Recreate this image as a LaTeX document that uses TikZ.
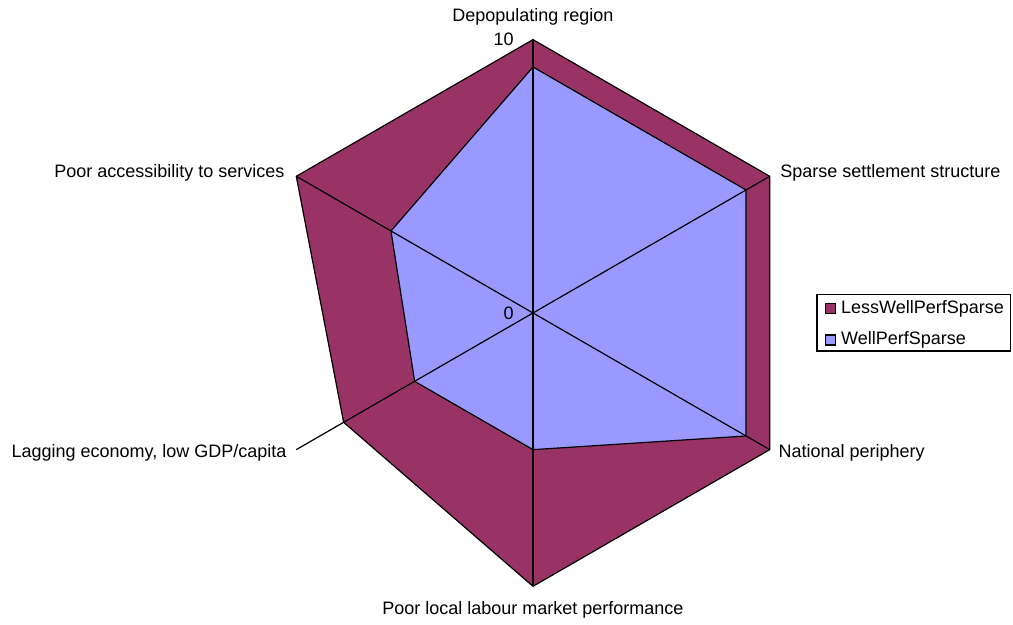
\documentclass[tikz,border=0pt]{standalone}
\usepackage{fontspec}
\setmainfont{Liberation Sans}
\definecolor{lesswellcol}{HTML}{993366}
\definecolor{wellcol}{HTML}{9999FF}
\tikzset{
  lesswell/.style={draw=black,fill=lesswellcol},
  well/.style={draw=black,fill=wellcol},
  axislabel/.style={inner sep=0pt},
  keybox/.style={draw=black,minimum size=5pt,inner sep=0pt}
}
\begin{document}
\begin{tikzpicture}[x=13.67pt,y=13.67pt,line width=0.6pt,font=\fontsize{9}{11}\selectfont]
  \useasboundingbox (-19.50,-11.38) rectangle (17.56,11.45);
  \coordinate (c) at (0,0);
  \foreach \i/\a/\l/\w in {0/90/10/9,1/30/10/9,2/-30/10/9,3/-90/10/5,4/-150/8/5,5/150/10/6}{
    \coordinate (a\i) at (\a:10);
    \coordinate (l\i) at (\a:\l);
    \coordinate (w\i) at (\a:\w);
  }
  \draw[lesswell] (l0) -- (l1) -- (l2) -- (l3) -- (l4) -- (l5) -- cycle;
  \draw[well] (w0) -- (w1) -- (w2) -- (w3) -- (w4) -- (w5) -- cycle;
  \foreach \i in {0,...,5}
    \draw (c) -- (a\i);
  \node[axislabel] (t0) at (0,10.83) {Depopulating region};
  \node[axislabel,anchor=west] (t1) at (9.03,5.12) {Sparse settlement structure};
  \node[axislabel,anchor=west] (t2) at (8.96,-5.12) {National periphery};
  \node[axislabel] (t3) at (0,-10.86) {Poor local labour market performance};
  \node[axislabel,anchor=east] (t4) at (-9.00,-5.12) {Lagging economy, low GDP/capita};
  \node[axislabel,anchor=east] (t5) at (-9.07,5.12) {Poor accessibility to services};
  \node[axislabel,anchor=east] (max) at (-0.69,10) {10};
  \node[axislabel,anchor=east] (min) at (-0.69,0) {0};
  % legend
  \draw (10.39,0.69) rectangle (17.48,-1.39);
  \node[keybox,fill=lesswellcol] (k1) at (10.88,0.15) {};
  \node[keybox,fill=wellcol] (k2) at (10.88,-0.99) {};
  \node[axislabel,anchor=west] (k1t) at (11.25,0.15) {LessWellPerfSparse};
  \node[axislabel,anchor=west] (k2t) at (11.25,-0.99) {WellPerfSparse};
\end{tikzpicture}
\end{document}
